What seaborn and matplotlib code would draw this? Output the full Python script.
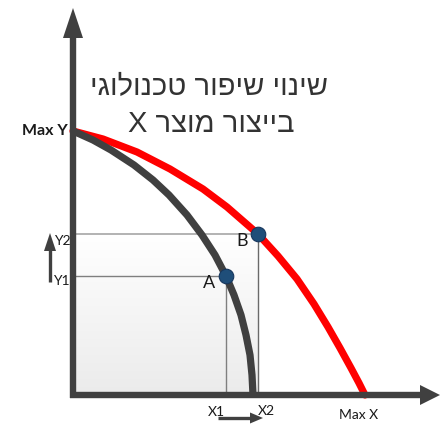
import matplotlib
matplotlib.use("Agg")
import numpy as np
import matplotlib.pyplot as plt
from matplotlib.colors import LinearSegmentedColormap
import seaborn as sns

# Production possibilities frontier before the technology improvement
old_x = [0, 20, 38, 61, 80, 96, 114, 129, 142, 153, 161, 168, 173, 177, 179, 180]
old_y = [264, 255, 245, 230, 215, 200, 180, 160, 140, 119, 100, 80, 60, 40, 20, 0]

# Frontier after the improvement in producing good X
new_x = [0, 30, 64, 97, 130, 154, 185, 205, 224, 241, 255, 267, 278, 286, 292]
new_y = [264, 256, 243, 226, 206, 188, 161, 139, 116, 91, 68, 47, 27, 12, 0]

# Production points on each frontier
point_names = ["A", "B"]
point_x = [153, 185]
point_y = [119, 161]

x_tick_labels = ["X1", "X2"]
y_tick_labels = ["Y1", "Y2"]
max_y_label = "Max Y"
max_x_label = "Max X"
title_lines = ["שינוי שיפור טכנולוגי", "בייצור מוצר X"]

sns.set_theme(style="white")
plt.rcParams["font.family"] = ["DejaVu Sans"]

AXIS = "#404040"
fig = plt.figure(figsize=(4.4, 4.24), dpi=100)
ax = fig.add_axes([0, 0, 1, 1])
ax.set_xlim(-73, 367)
ax.set_ylim(-29, 395)
ax.axis("off")

# Shaded output region under point B
grad = np.linspace(0, 1, 256).reshape(-1, 1)
cmap = LinearSegmentedColormap.from_list("shade", ["#ebebeb", "#ffffff"])
ax.imshow(grad, extent=(2, point_x[1], 0, point_y[1]), origin="lower",
          cmap=cmap, aspect="auto", zorder=0)

# Guide lines from the points to the axes
ax.plot([0, point_x[1]], [point_y[1], point_y[1]], color="#a6a6a6", lw=1.2, zorder=1)
ax.plot([0, point_x[0]], [point_y[0], point_y[0]], color="#7f7f7f", lw=1.0, zorder=1)
ax.plot([point_x[0], point_x[0]], [0, point_y[0]], color="#7f7f7f", lw=1.0, zorder=1)
ax.plot([point_x[1], point_x[1]], [0, point_y[1]], color="#6a6a6a", lw=1.0, zorder=1)

# Frontiers
sns.lineplot(x=new_x, y=new_y, sort=False, color="#ff0000", lw=5.2, ax=ax,
             zorder=2, solid_capstyle="round")
sns.lineplot(x=old_x, y=old_y, sort=False, color=AXIS, lw=5.2, ax=ax,
             zorder=3, solid_capstyle="butt")

sns.scatterplot(x=point_x, y=point_y, s=110, color="#1f4e79",
                edgecolor="#17375e", linewidth=0.8, ax=ax, zorder=5)

# Axes with arrow heads
ax.plot([0, 0], [-3.4, 360], color=AXIS, lw=4.6, solid_capstyle="butt", zorder=4)
ax.fill([-10, 10, 0], [357, 357, 387], color=AXIS, lw=0, zorder=4)
ax.plot([-3.4, 349], [0, 0], color=AXIS, lw=4.6, solid_capstyle="butt", zorder=4)
ax.fill([347, 347, 367], [10, -10, 0], color=AXIS, lw=0, zorder=4)

# Small shift arrows
ax.plot([-23, -23], [113, 146], color=AXIS, lw=2.4, solid_capstyle="butt")
ax.fill([-29, -17, -23], [144, 144, 162], color=AXIS, lw=0)
ax.plot([145, 179], [-23, -23], color=AXIS, lw=2.4, solid_capstyle="butt")
ax.fill([177, 177, 190], [-28.5, -17.5, -23], color=AXIS, lw=0)

lab = dict(family=["Lato", "DejaVu Sans"], color="#1a1a1a")
ax.text(-5, 264, max_y_label, ha="right", va="center", fontsize=11.5,
        fontweight="bold", **lab)
ax.text(-2, point_y[1] - 7, y_tick_labels[1], ha="right", va="center", fontsize=10, **lab)
ax.text(-3, point_y[0] - 5, y_tick_labels[0], ha="right", va="center", fontsize=10, **lab)
ax.text(point_x[0] - 1, -16.5, x_tick_labels[0], ha="right", va="center", fontsize=10, **lab)
ax.text(point_x[1], -16, x_tick_labels[1], ha="left", va="center", fontsize=10, **lab)
ax.text(285.5, -20, max_x_label, ha="center", va="center", fontsize=10, **lab)
ax.text(point_x[0] - 17, point_y[0] - 7, point_names[0], ha="center", va="center",
        fontsize=13, **lab)
ax.text(point_x[1] - 16, point_y[1] - 7, point_names[1], ha="center", va="center",
        fontsize=13, **lab)

# Hebrew caption; matplotlib has no bidi support, so feed it in visual order
heb = dict(family=["Liberation Sans", "DejaVu Sans"], color="#333333",
           fontsize=21, ha="center", va="baseline")
ax.text(136, 300, title_lines[0][::-1], **heb)
ax.text(138, 263.5, title_lines[1][::-1], **heb)

fig.savefig("out.png", dpi=100)
